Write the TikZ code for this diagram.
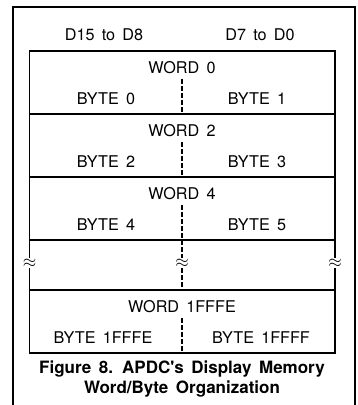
\documentclass[tikz,border=0pt]{standalone}
\usepackage{fontspec}
\setmainfont{TeX Gyre Heros}[WordSpace=1.6]
\begin{document}
\begin{tikzpicture}[x=1pt,y=-1pt,
  frame/.style={line width=1.5pt},
  tline/.style={line width=1.2pt},
  divider/.style={line width=1.4pt,dash pattern=on 4.5pt off 2.5pt},
  lbl/.style={inner sep=0pt,font=\fontsize{16.2}{19}\selectfont},
  captxt/.style={inner sep=0pt,font=\fontsize{17}{20}\selectfont\bfseries,align=center},
  brk/.style={fill=white,inner sep=0.4pt,font=\fontsize{18}{18}\selectfont}]
\useasboundingbox (0,0) rectangle (358,405);
\fill[white] (0,0) rectangle (358,405);
% outer frame
\draw[frame] (13,406) -- (13,7) -- (355,7) -- (355,406);
% headers
\node[lbl] (hL) at (104,35) {D15 to D8};
\node[lbl] (hR) at (260,35) {D7 to D0};
% table
\draw[tline] (29.5,51) rectangle (335,353);
\foreach \yy in {114,177,240,290} \draw[tline] (29.5,\yy) -- (335,\yy);
% row texts
\node[lbl] (w0) at (182,68) {WORD 0};
\node[lbl] (b0) at (106,99) {BYTE 0};
\node[lbl] (b1) at (257,99) {BYTE 1};
\node[lbl] (w2) at (182,131) {WORD 2};
\node[lbl] (b2) at (106,162) {BYTE 2};
\node[lbl] (b3) at (257,162) {BYTE 3};
\node[lbl] (w4) at (182,194) {WORD 4};
\node[lbl] (b4) at (106,225) {BYTE 4};
\node[lbl] (b5) at (257,225) {BYTE 5};
\node[lbl] (wL) at (182,307) {WORD 1FFFE};
\node[lbl] (bL0) at (103,338) {BYTE 1FFFE};
\node[lbl] (bL1) at (261,338) {BYTE 1FFFF};
% dashed dividers
\coordinate (d0a) at (182,79);  \coordinate (d0b) at (182,114);
\coordinate (d2a) at (182,142); \coordinate (d2b) at (182,177);
\coordinate (d4a) at (182,205); \coordinate (d4b) at (182,240);
\coordinate (dga) at (182,240); \coordinate (dgb) at (182,290);
\coordinate (dLa) at (182,318); \coordinate (dLb) at (182,353);
\draw[divider] (d0a) -- (d0b);
\draw[divider] (d2a) -- (d2b);
\draw[divider] (d4a) -- (d4b);
\draw[divider] (dga) -- (dgb);
\draw[divider] (dLa) -- (dLb);
% break marks
\node[brk] (brkL) at (29.5,263) {$\approx$};
\node[brk] (brkM) at (182,263) {$\approx$};
\node[brk] (brkR) at (335,263) {$\approx$};
% caption
\node[captxt] (c1) at (182,369) {Figure 8. APDC\textquotesingle s Display Memory};
\node[captxt] (c2) at (182,389) {Word/Byte Organization};
\end{tikzpicture}
\end{document}
